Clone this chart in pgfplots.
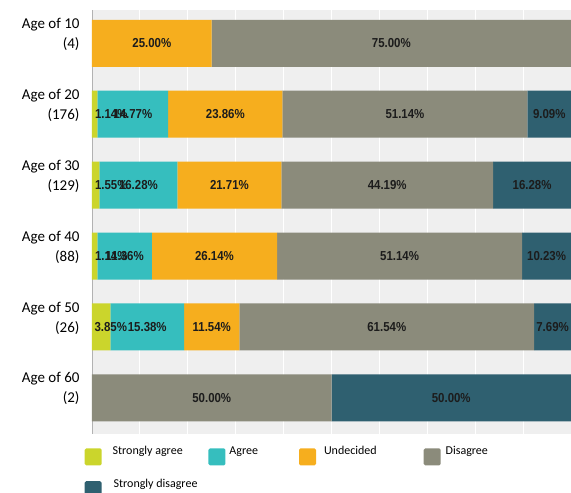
\documentclass[border=0pt]{standalone}
\usepackage{fontspec}
\setmainfont{Carlito}
\newfontfamily\barfont[FakeStretch=0.88]{Liberation Sans}
\usepackage{pgfplots}
\pgfplotsset{compat=1.18}
\usepackage{pgfplotstable}
\definecolor{csa}{HTML}{CBD52C}
\definecolor{cag}{HTML}{36BEBE}
\definecolor{cun}{HTML}{F6AE1E}
\definecolor{cdi}{HTML}{8B8B7B}
\definecolor{csd}{HTML}{2F6070}
\definecolor{bgc}{HTML}{EFEFEF}
\definecolor{lbl}{HTML}{1C1C1C}

\pgfplotstableread{
y sa ag un di sd
0 0 0 25 75 0
1 1.14 14.77 23.86 51.14 9.09
2 1.55 16.28 21.71 44.19 16.28
3 1.14 11.36 26.14 51.14 10.23
4 3.85 15.38 11.54 61.54 7.69
5 0 0 0 50 50
}\datatable

% label positions (segment centres)
\pgfplotstableread{
pos y v
12.5 0 25.00
62.5 0 75.00
8.525 1 14.77
27.84 1 23.86
65.34 1 51.14
95.455 1 9.09
9.69 2 16.28
28.685 2 21.71
61.635 2 44.19
91.87 2 16.28
6.82 3 11.36
25.57 3 26.14
64.21 3 51.14
94.895 3 10.23
11.54 4 15.38
25.0 4 11.54
61.54 4 61.54
96.155 4 7.69
25 5 50.00
75 5 50.00
}\centerlabels

% small first segments: labels pushed to the left edge
\pgfplotstableread{
pos y v
0.6 1 1.14
0.6 2 1.55
0.6 3 1.14
0.5 4 3.85
}\leftlabels

\pgfplotsset{
  common/.style={
    scale only axis,
    width=479pt, height=424pt,
    xmin=0, xmax=100,
    ymin=-0.47, ymax=5.51,
    y dir=reverse,
  },
}

\begin{document}
\begin{tikzpicture}
\begin{axis}[
  common,
  name=ax,
  xbar stacked,
  bar width=47pt,
  axis background/.style={fill=bgc},
  axis line style={draw=none},
  major tick length=0pt,
  xtick={0,10,...,100},
  xticklabels={},
  xmajorgrids,
  grid style={white, line width=1pt},
  extra x ticks={0},
  extra x tick labels={},
  extra x tick style={grid style={draw=black!30, line width=0.7pt}},
  ytick={0,1,2,3,4,5},
  yticklabels={{Age of 10\\(4)},{Age of 20\\(176)},{Age of 30\\(129)},{Age of 40\\(88)},{Age of 50\\(26)},{Age of 60\\(2)}},
  yticklabel style={align=right, font=\fontsize{15}{20}\selectfont, xshift=-9pt, yshift=9pt},
  legend columns=4,
  legend style={
    at={(-0.022,-0.022)}, anchor=north west,
    draw=none, fill=none,
    font=\fontsize{12}{14}\selectfont,
    row sep=13pt,
    /tikz/every even column/.append style={column sep=10pt},
    nodes={inner sep=1pt, anchor=base west},
  },
  legend cell align=left,
  legend image code/.code={\fill[#1,draw=none,rounded corners=1.5pt] (0pt,-10.5pt) rectangle (17pt,6.5pt);},
]
\addplot[fill=csa, draw=none] table[x=sa, y=y] {\datatable};
\addplot[fill=cag, draw=none] table[x=ag, y=y] {\datatable};
\addplot[fill=cun, draw=none] table[x=un, y=y] {\datatable};
\addplot[fill=cdi, draw=none] table[x=di, y=y] {\datatable};
\addplot[fill=csd, draw=none] table[x=sd, y=y] {\datatable};
\addlegendentry{\hspace*{10pt}Strongly agree}
\addlegendentry{\hspace*{3pt}Agree\hspace*{30pt}}
\addlegendentry{\hspace*{7pt}Undecided\hspace*{36pt}}
\addlegendentry{\hspace*{4pt}Disagree}
\addlegendentry{\hspace*{11pt}Strongly disagree}
\end{axis}

\begin{axis}[
  common,
  hide axis,
  clip=false,
]
\addplot[draw=none, mark=none, point meta=explicit,
  nodes near coords={\pgfmathprintnumber[fixed,fixed zerofill,precision=2,assume math mode=true]{\pgfplotspointmeta}\%},
  every node near coord/.style={anchor=center, inner sep=0pt, text=lbl, font=\barfont\bfseries\fontsize{13}{15}\selectfont},
] table[x=pos, y=y, meta=v] {\centerlabels};
\addplot[draw=none, mark=none, point meta=explicit,
  nodes near coords={\pgfmathprintnumber[fixed,fixed zerofill,precision=2,assume math mode=true]{\pgfplotspointmeta}\%},
  every node near coord/.style={anchor=west, inner sep=0pt, text=lbl, font=\barfont\bfseries\fontsize{13}{15}\selectfont},
] table[x=pos, y=y, meta=v] {\leftlabels};
\end{axis}

\pgfresetboundingbox
\path ([xshift=-92pt,yshift=-59pt]ax.south west) rectangle ([yshift=10pt]ax.north east);
\end{tikzpicture}
\end{document}
